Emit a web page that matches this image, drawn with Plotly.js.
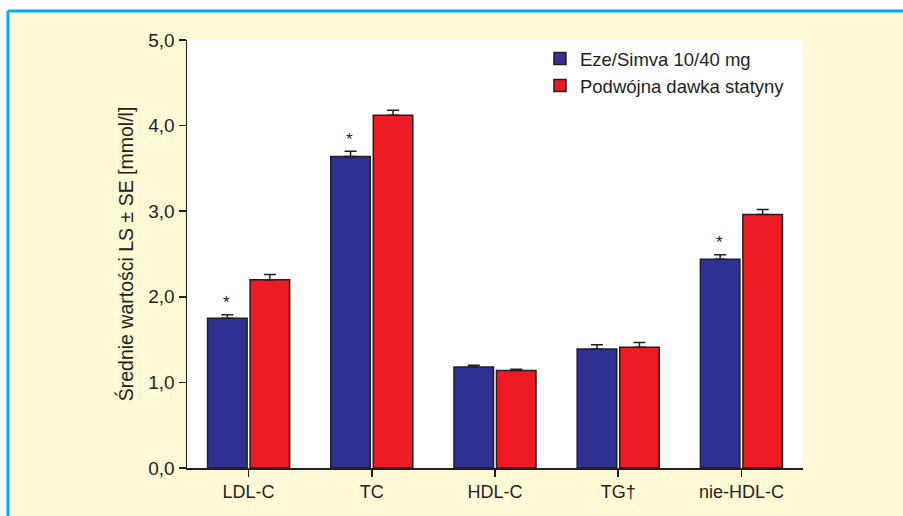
<!DOCTYPE html>
<html>
<head>
<meta charset="utf-8">
<script src="https://cdn.plot.ly/plotly-3.0.1.min.js"></script>
<style>html,body{margin:0;padding:0;background:#fff;}#chart{width:903px;height:516px;}</style>
</head>
<body>
<div id="chart"></div>
<script>
var categories = ["LDL-C", "TC", "HDL-C", "TG†", "nie-HDL-C"];
var seriesNames = ["Eze/Simva 10/40 mg", "Podwójna dawka statyny"];
var ezeValues = [1.75, 3.64, 1.18, 1.39, 2.44];
var ezeErrors = [0.04, 0.06, 0.02, 0.05, 0.05];
var statValues = [2.20, 4.12, 1.14, 1.41, 2.96];
var statErrors = [0.06, 0.06, 0.015, 0.055, 0.06];
var significant = [true, true, false, false, true];
var yTicks = [0, 1, 2, 3, 4, 5];

var FONT = "Liberation Sans, Arial, sans-serif";
var INK = "#231F20";

function zeros(a) { return a.map(function () { return 0; }); }

var traces = [
  {
    type: "bar", name: seriesNames[0], x: categories, y: ezeValues,
    marker: {color: "#2E3192", line: {color: INK, width: 1.5}},
    error_y: {type: "data", symmetric: false, array: ezeErrors, arrayminus: zeros(ezeErrors), visible: true, color: INK, thickness: 1.5, width: 6}
  },
  {
    type: "bar", name: seriesNames[1], x: categories, y: statValues,
    marker: {color: "#ED1C24", line: {color: INK, width: 1.5}},
    error_y: {type: "data", symmetric: false, array: statErrors, arrayminus: zeros(statErrors), visible: true, color: INK, thickness: 1.5, width: 6}
  }
];

var annotations = [];
categories.forEach(function (c, i) {
  if (significant[i]) {
    annotations.push({
      x: c, y: ezeValues[i] + ezeErrors[i], xref: "x", yref: "y",
      text: "*", showarrow: false, xshift: -22, yshift: 12, yanchor: "middle",
      font: {family: FONT, size: 17, color: INK}
    });
  }
});

var layout = {
  width: 903, height: 516,
  margin: {l: 187, r: 100, t: 40, b: 48},
  paper_bgcolor: "#FFF9D6",
  plot_bgcolor: "#FFFFFF",
  separators: ", ",
  barmode: "group",
  bargap: 0.31,
  bargroupgap: 0.07,
  font: {family: FONT, size: 17, color: INK},
  showlegend: true,
  legend: {
    x: 0.573, y: 1.0, xanchor: "left", yanchor: "top",
    bgcolor: "rgba(0,0,0,0)", font: {family: FONT, size: 18.5, color: INK},
    tracegroupgap: 0
  },
  xaxis: {
    type: "category",
    showline: true, linecolor: INK, linewidth: 1.5,
    ticks: "outside", ticklen: 7, tickcolor: INK, tickwidth: 1.5,
    tickfont: {family: FONT, size: 18, color: INK},
    showgrid: false, zeroline: false, fixedrange: true
  },
  yaxis: {
    range: [0, 5], tickvals: yTicks, tickformat: ".1f",
    showline: true, linecolor: INK, linewidth: 1.5,
    ticks: "outside", ticklen: 7, tickcolor: INK, tickwidth: 1.5,
    tickfont: {family: FONT, size: 19, color: INK},
    showgrid: false, zeroline: false,
    title: {text: "Średnie wartości LS ± SE [mmol/l]", font: {family: FONT, size: 19.5, color: INK}, standoff: 9}
  },
  annotations: annotations,
  shapes: [
    {type: "rect", xref: "paper", yref: "paper", layer: "below",
     x0: -0.31, x1: 1.2, y0: 1.0701, y1: 1.1, fillcolor: "#FFFFFF", line: {width: 0}},
    {type: "rect", xref: "paper", yref: "paper", layer: "below",
     x0: -0.31, x1: -0.2922, y0: -0.2, y1: 1.1, fillcolor: "#FFFFFF", line: {width: 0}},
    {type: "line", xref: "paper", yref: "paper", layer: "below",
     x0: -0.2906, x1: 1.2, y0: 1.0678, y1: 1.0678, line: {color: "#00AEEF", width: 3}},
    {type: "line", xref: "paper", yref: "paper", layer: "below",
     x0: -0.2906, x1: -0.2906, y0: -0.2, y1: 1.0678, line: {color: "#00AEEF", width: 3}}
  ]
};

Plotly.newPlot("chart", traces, layout, {staticPlot: true, displayModeBar: false});
</script>
</body>
</html>
